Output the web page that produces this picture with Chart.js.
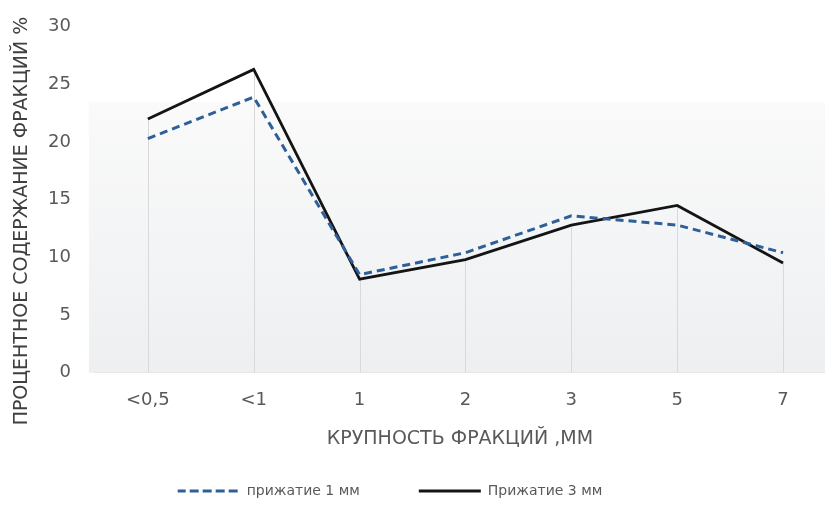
<!DOCTYPE html>
<html>
<head>
<meta charset="utf-8">
<script src="https://cdn.jsdelivr.net/npm/chart.js@4"></script>
<style>
  html, body { margin: 0; padding: 0; background: #fff; overflow: hidden; }
  #wrap { width: 825px; height: 514px; }
</style>
</head>
<body>
<div id="wrap"><canvas id="fractionChart" width="825" height="514"></canvas></div>
<script>
// fraction sizes, mm
const sizes = ['<0,5', '<1', '1', '2', '3', '5', '7'];
// % content, pressing 1 mm
const press1 = [20.3, 23.9, 8.5, 10.4, 13.6, 12.8, 10.4];
// % content, pressing 3 mm
const press3 = [22.0, 26.3, 8.1, 9.8, 12.8, 14.5, 9.5];
const yTicks = [0, 5, 10, 15, 20, 25, 30];
const yTitle = 'ПРОЦЕНТНОЕ СОДЕРЖАНИЕ ФРАКЦИЙ %';

const toPoints = arr => arr.map((v, i) => ({ x: i, y: v }));
const font = 'DejaVu Sans';
const EM = '\u2003', EN = '\u2002';

// soft gray background + drop lines down to the 3 mm series
const backdrop = {
  id: 'backdrop',
  beforeDatasetsDraw(chart) {
    const { ctx, chartArea: a, scales } = chart;
    const top = a.top + 75;
    const g = ctx.createLinearGradient(0, top, 0, a.bottom);
    g.addColorStop(0, '#fafafa');
    g.addColorStop(1, '#edeff1');
    ctx.save();
    ctx.fillStyle = g;
    ctx.fillRect(a.left - 6, top, a.right - a.left + 6, a.bottom - top);
    ctx.strokeStyle = '#d9d9d9';
    ctx.lineWidth = 1;
    const y0 = scales.y.getPixelForValue(0);
    chart.getDatasetMeta(1).data.forEach(pt => {
      ctx.beginPath();
      ctx.moveTo(Math.round(pt.x) + 0.5, y0);
      ctx.lineTo(Math.round(pt.x) + 0.5, pt.y);
      ctx.stroke();
    });
    ctx.restore();
  }
};

// y title sits a bit lower than the plot middle in the original
const sideTitle = {
  id: 'sideTitle',
  afterDraw(chart) {
    const { ctx } = chart;
    ctx.save();
    ctx.translate(22, 221);
    ctx.rotate(-Math.PI / 2);
    ctx.font = '19px "DejaVu Sans"';
    ctx.fillStyle = '#404040';
    ctx.textAlign = 'center';
    ctx.textBaseline = 'middle';
    ctx.fillText(yTitle, 0, 0);
    ctx.restore();
  }
};

new Chart(document.getElementById('fractionChart'), {
  type: 'line',
  data: {
    datasets: [{
      label: 'прижатие 1 мм',
      data: toPoints(press1),
      borderColor: '#2f5f98',
      backgroundColor: 'rgba(0,0,0,0)',
      borderWidth: 3,
      borderDash: [8, 5],
      pointRadius: 0,
      tension: 0
    }, {
      label: 'Прижатие 3 мм',
      data: toPoints(press3),
      borderColor: '#141414',
      backgroundColor: 'rgba(0,0,0,0)',
      borderWidth: 2.8,
      pointRadius: 0,
      tension: 0
    }]
  },
  options: {
    responsive: false,
    animation: false,
    layout: { padding: { top: 1, right: 0, left: 32, bottom: 6 } },
    plugins: {
      tooltip: { enabled: false },
      legend: {
        position: 'bottom',
        labels: {
          boxWidth: 62,
          boxHeight: 0,
          padding: 10,
          color: '#595959',
          font: { family: font, size: 14 },
          generateLabels(chart) {
            const items = Chart.defaults.plugins.legend.labels.generateLabels(chart);
            items[0].text += EM.repeat(3) + EN;
            items[1].text += EM.repeat(5) + EN;
            return items;
          }
        }
      }
    },
    scales: {
      x: {
        type: 'linear',
        min: -0.5,
        max: 6.396,
        afterBuildTicks: s => { s.ticks = sizes.map((_, i) => ({ value: i })); },
        ticks: {
          callback: v => sizes[v],
          color: '#595959',
          font: { family: font, size: 18 },
          padding: 9
        },
        grid: { display: false },
        border: { color: '#d9d9d9', width: 1 },
        title: {
          display: true,
          text: 'КРУПНОСТЬ ФРАКЦИЙ ,ММ',
          color: '#595959',
          font: { family: font, size: 19 },
          padding: { top: 7, bottom: 24 }
        }
      },
      y: {
        min: 0,
        max: 30,
        afterBuildTicks: s => { s.ticks = yTicks.map(v => ({ value: v })); },
        ticks: {
          color: '#595959',
          font: { family: font, size: 18 },
          padding: 16
        },
        grid: { display: false },
        border: { display: false }
      }
    }
  },
  plugins: [backdrop, sideTitle]
});
</script>
</body>
</html>
